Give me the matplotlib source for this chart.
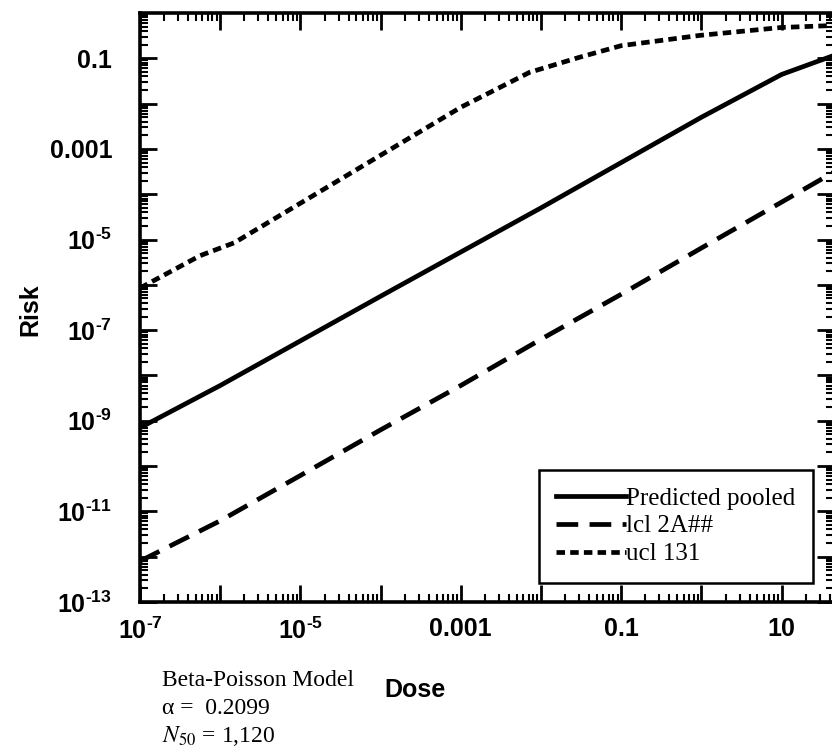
import matplotlib
matplotlib.use("Agg")
import matplotlib.pyplot as plt
import numpy as np

# ---- data ----
pred_dose = [1e-7, 1e-6, 1e-5, 1e-4, 1e-3, 1e-2, 0.1, 1, 10, 45]
pred_risk = [7e-10, 6.0e-9, 5.8e-8, 5.6e-7, 5.3e-6, 5.0e-5, 5.0e-4, 5.0e-3, 0.044, 0.116]

lcl_dose = [1e-7, 1e-6, 1e-5, 1e-4, 1e-3, 1e-2, 0.1, 1, 10, 45]
lcl_risk = [8e-13, 6.2e-12, 6.2e-11, 6.3e-10, 6e-9, 6.3e-8, 6.2e-7, 6.5e-6, 6.7e-5, 3.1e-4]

ucl_dose = [1e-7, 5.6e-7, 1.5e-6, 1e-3, 7.2e-3, 0.03, 0.1, 0.95, 10, 45]
ucl_risk = [8.5e-7, 4.4e-6, 8.5e-6, 8.3e-3, 0.049, 0.105, 0.19, 0.32, 0.48, 0.53]

series_labels = ["Predicted pooled", "lcl 2A##", "ucl 131"]

x_major = [1e-7, 1e-6, 1e-5, 1e-4, 1e-3, 1e-2, 1e-1, 1, 10]
x_labels = [r"$\mathbf{10^{\text{-}7}}$", "", r"$\mathbf{10^{\text{-}5}}$", "", "0.001", "", "0.1", "", "10"]
y_major = [1e-13, 1e-12, 1e-11, 1e-10, 1e-9, 1e-8, 1e-7, 1e-6, 1e-5, 1e-4, 1e-3, 1e-2, 1e-1]
y_labels = [r"$\mathbf{10^{\text{-}13}}$", "", r"$\mathbf{10^{\text{-}11}}$", "", r"$\mathbf{10^{\text{-}9}}$", "",
            r"$\mathbf{10^{\text{-}7}}$", "", r"$\mathbf{10^{\text{-}5}}$", "", "0.001", "", "0.1"]

model_lines = ["Beta-Poisson Model", "\u03b1 =  0.2099", r"$N_{50}$ = 1,120"]

# ---- style ----
plt.rcParams["mathtext.fontset"] = "custom"
plt.rcParams["mathtext.rm"] = "Liberation Sans:bold"
plt.rcParams["mathtext.bf"] = "Liberation Sans:bold"
plt.rcParams["mathtext.it"] = "Liberation Sans:bold"

W, H = 832, 752
fig = plt.figure(figsize=(W / 100, H / 100), dpi=100)
L, R, T, B = 140, 834, 13, 602
ax = fig.add_axes([L / W, 1 - B / H, (R - L) / W, (B - T) / H])
ax.set_xscale("log")
ax.set_yscale("log")
ax.set_xlim(1e-7, 45)
ax.set_ylim(1e-13, 1)

lw = 3.4
ax.plot(pred_dose, pred_risk, color="black", lw=lw, label=series_labels[0])
ax.plot(lcl_dose, lcl_risk, color="black", lw=lw, dashes=(4.6, 2.4), label=series_labels[1])
ax.plot(ucl_dose, ucl_risk, color="black", lw=lw, dashes=(1.8, 1.1), label=series_labels[2])

ax.set_xticks(x_major)
ax.set_xticklabels(x_labels)
ax.set_yticks(y_major)
ax.set_yticklabels(y_labels)
ax.xaxis.set_minor_locator(matplotlib.ticker.LogLocator(base=10, subs=np.arange(2, 10), numticks=50))
ax.yaxis.set_minor_locator(matplotlib.ticker.LogLocator(base=10, subs=np.arange(2, 10), numticks=50))
ax.xaxis.set_minor_formatter(matplotlib.ticker.NullFormatter())
ax.yaxis.set_minor_formatter(matplotlib.ticker.NullFormatter())
ax.tick_params(which="both", direction="in", top=True, right=True)
ax.tick_params(which="major", length=12, width=2)
ax.tick_params(which="minor", length=6, width=1.5)
ax.tick_params(axis="x", which="major", pad=11)
ax.tick_params(axis="y", which="major", pad=20)
for lab in ax.get_xticklabels() + ax.get_yticklabels():
    lab.set_fontfamily("Liberation Sans")
    lab.set_fontweight("bold")
    lab.set_fontsize(18)
for s in ax.spines.values():
    s.set_linewidth(2.6)

fig.text(30 / W, 1 - 310 / H, "Risk", rotation=90, ha="center", va="center",
         fontfamily="Liberation Sans", fontweight="bold", fontsize=18)
fig.text(415 / W, 1 - 690 / H, "Dose", ha="center", va="center",
         fontfamily="Liberation Sans", fontweight="bold", fontsize=18)

ys = [680, 708, 736]
for txt, yy in zip(model_lines, ys):
    t = fig.text(162 / W, 1 - yy / H, txt, ha="left", va="center",
                 fontfamily="Liberation Serif", fontsize=17)
    t.set_math_fontfamily("stix")

leg = ax.legend(loc="lower right", bbox_to_anchor=(813 / W, 1 - 583 / H),
                bbox_transform=fig.transFigure, borderaxespad=0,
                prop={"family": "Liberation Serif", "size": 18},
                handlelength=2.8, handletextpad=0.0, labelspacing=0.22,
                borderpad=0.7, fancybox=False, framealpha=1, edgecolor="black")
leg.get_frame().set_linewidth(1.8)

fig.savefig("out.png", dpi=100)
